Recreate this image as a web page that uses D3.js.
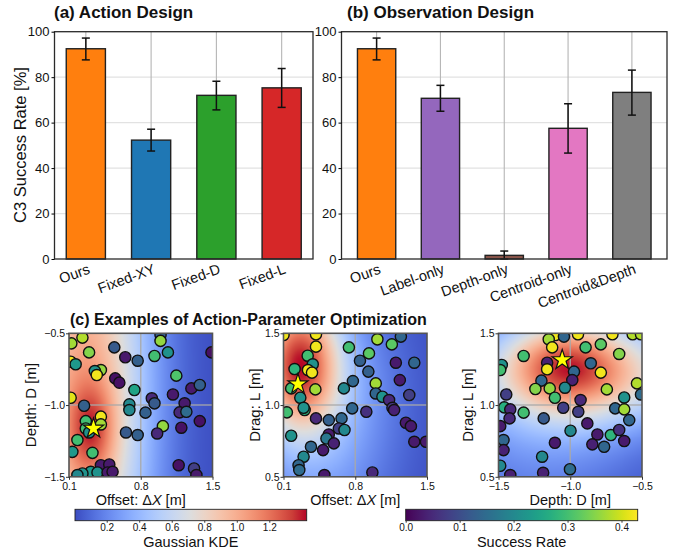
<!DOCTYPE html>
<html>
<head>
<meta charset="utf-8">
<script src="https://cdn.jsdelivr.net/npm/d3@7"></script>
<style>
  body { margin: 0; background: #fff; }
  svg { display: block; }
  text { font-family: "Liberation Sans", Arial, sans-serif; fill: #111; }
</style>
</head>
<body>
<svg id="fig" width="681" height="550"></svg>
<script>
// ---------- bar chart data (success rate in %) ----------
const actionLabels = ["Ours", "Fixed-XY", "Fixed-D", "Fixed-L"];
const actionRate   = [92.5, 52.3, 72.0, 75.3];
const actionLow    = [87.6, 47.5, 65.6, 66.7];
const actionHigh   = [97.2, 57.1, 78.2, 83.8];
const actionColors = ["#ff7f0e", "#1f77b4", "#2ca02c", "#d62728"];

const obsLabels = ["Ours", "Label-only", "Depth-only", "Centroid-only", "Centroid&Depth"];
const obsRate   = [92.5, 70.7, 1.6, 57.5, 73.3];
const obsLow    = [87.6, 65.0, 0.0, 46.6, 63.3];
const obsHigh   = [97.2, 76.4, 3.5, 68.3, 83.1];
const obsColors = ["#ff7f0e", "#9467bd", "#8c564b", "#e377c2", "#7f7f7f"];

const rateTicks = [0, 20, 40, 60, 80, 100];

// ---------- action-parameter samples: [x, y, success rate] ----------
const samplesOffsetDepth = [
  [0.123,-0.570,.37],[0.231,-0.530,.38],[0.993,-0.512,.13],[0.993,-0.553,.36],[0.542,-0.598,.12],
  [0.296,-0.633,.35],[0.649,-0.667,.03],[0.770,-0.691,.13],[0.934,-0.658,.30],[1.065,-0.633,.22],
  [1.490,-0.633,.02],[0.116,-0.698,.42],[0.165,-0.716,.23],[0.411,-0.756,.36],[0.352,-0.763,.22],
  [0.371,-0.791,.42],[0.551,-0.814,.02],[0.591,-0.844,.02],[0.738,-0.895,.25],[1.147,-0.795,.31],
  [1.294,-0.884,.03],[1.376,-0.860,.13],[1.114,-0.926,.03],[0.908,-0.953,.05],[0.934,-0.988,.12],
  [1.228,-0.988,.03],[0.116,-0.949,.41],[0.247,-1.005,.13],[0.689,-0.995,.20],[0.689,-1.035,.20],
  [0.846,-1.053,.13],[1.179,-1.051,.05],[1.245,-1.047,.15],[1.376,-1.112,.02],[0.264,-1.112,.30],
  [0.411,-1.081,.42],[0.264,-1.163,.30],[0.296,-1.191,.22],[0.411,-1.135,.37],[1.016,-1.147,.36],
  [1.196,-1.158,.02],[0.656,-1.191,.12],[0.770,-1.209,.13],[0.960,-1.198,.05],[0.182,-1.244,.30],
  [0.133,-1.326,.23],[0.329,-1.333,.30],[0.411,-1.419,.03],[0.493,-1.414,.03],[0.313,-1.465,.23],
  [0.231,-1.477,.22],[0.182,-1.488,.20],[0.378,-1.470,.22],[0.476,-1.470,.03],[0.525,-1.465,.03],
  [1.170,-1.419,.02],[1.320,-1.442,.08],[1.343,-1.488,.03]
];
const samplesOffsetDrag = [
  [0.100,1.488,.42],[0.417,1.493,.42],[0.417,1.407,.42],[0.738,1.402,.30],[1.016,1.458,.37],
  [1.157,1.423,.32],[1.245,1.477,.14],[0.934,1.360,.32],[0.336,1.344,.30],[0.846,1.309,.13],
  [1.196,1.295,.03],[1.376,1.295,.14],[0.385,1.284,.22],[0.208,1.251,.28],[0.339,1.244,.42],
  [0.378,1.226,.42],[0.928,1.233,.13],[1.235,1.174,.03],[0.777,1.167,.14],[1.000,1.151,.37],
  [0.689,1.116,.20],[0.411,1.109,.37],[0.175,1.116,.30],[1.000,1.081,.14],[1.065,1.058,.22],
  [1.130,1.035,.05],[1.327,1.070,.08],[0.264,1.051,.22],[0.306,0.965,.28],[0.296,0.981,.22],
  [0.133,0.949,.30],[0.770,0.977,.14],[0.908,0.953,.06],[1.163,0.981,.07],[1.179,0.965,.04],
  [0.417,0.907,.05],[0.542,0.895,.13],[0.666,0.907,.14],[0.640,0.837,.08],[0.695,0.826,.20],
  [0.542,0.795,.03],[0.519,0.767,.17],[0.591,0.733,.04],[1.294,0.877,.03],[1.343,0.853,.03],
  [0.175,0.786,.22],[0.368,0.709,.14],[0.486,0.686,.03],[1.376,0.744,.03],[1.490,0.744,.03],
  [0.296,0.640,.20],[0.247,0.581,.14],[0.254,0.547,.15],[0.499,0.512,.03],[0.967,0.530,.05]
];
const samplesDepthDrag = [
  [-1.103,1.488,.42],[-1.044,1.477,.14],[-0.946,1.493,.42],[-0.706,1.493,.42],[-0.565,1.493,.38],
  [-0.507,1.493,.38],[-1.150,1.458,.37],[-1.126,1.402,.42],[-0.893,1.402,.30],[-0.787,1.423,.32],
  [-1.325,1.342,.30],[-0.659,1.356,.35],[-1.477,1.279,.22],[-1.488,1.244,.30],[-1.161,1.295,.04],
  [-1.161,1.249,.42],[-0.974,1.233,.14],[-0.857,1.291,.14],[-0.787,1.226,.42],[-0.986,1.174,.04],
  [-1.201,1.170,.14],[-1.243,1.112,.35],[-1.143,1.116,.36],[-1.037,1.121,.20],[-1.107,1.051,.30],
  [-0.928,1.035,.05],[-0.745,1.109,.37],[-0.535,1.151,.38],[-0.624,1.053,.22],[-0.507,1.074,.15],
  [-1.446,1.074,.08],[-1.460,0.984,.27],[-1.418,0.970,.05],[-1.325,0.947,.30],[-1.049,0.981,.08],
  [-0.944,0.953,.08],[-0.687,0.977,.14],[-0.624,0.970,.37],[-0.589,0.895,.14],[-1.423,0.907,.05],
  [-1.185,0.907,.12],[-0.881,0.872,.03],[-1.488,0.853,.03],[-0.998,0.821,.20],[-0.811,0.795,.03],
  [-0.717,0.791,.28],[-0.659,0.826,.06],[-0.624,0.749,.03],[-0.846,0.726,.04],[-0.764,0.709,.14],
  [-1.107,0.737,.03],[-1.465,0.756,.14],[-1.465,0.686,.04],[-1.196,0.640,.20],[-1.488,0.577,.20],
  [-1.002,0.553,.15],[-1.189,0.528,.04],[-1.418,0.512,.04]
];
// optimum found in each search (star)
const bestOffsetDepth = [0.339, -1.163];
const bestOffsetDrag  = [0.241, 1.146];
const bestDepthDrag   = [-1.056, 1.314];

// Gaussian KDE components: [cx, cy, sigmaX, sigmaY, weight]
const kdeOffsetDepth = [[0.25, -0.95, 0.45, 1.30, 1.05], [0.32, -1.17, 0.16, 0.22, 0.38]];
const kdeOffsetDrag  = [[0.25, 1.30, 0.27, 0.32, 1.08], [0.45, 1.00, 0.50, 0.60, 0.42]];
const kdeDepthDrag   = [[-1.05, 1.30, 0.30, 0.22, 0.62], [-0.82, 1.22, 0.55, 0.26, 0.70], [-1.20, 0.85, 0.50, 0.45, 0.25]];

const kdeRange = [0.005, 1.43];
const rateRange = [0, 0.43];
const kdeTicks = [0.2, 0.4, 0.6, 0.8, 1.0, 1.2];
const rateCbTicks = [0.0, 0.1, 0.2, 0.3, 0.4];

// ---------- colour maps ----------
const coolwarmStops = ["#3b4cc0", "#4d68d7", "#6282ea", "#779af7", "#8db0fe", "#a3c2ff", "#b8d0f9",
  "#cbd8ee", "#dddddd", "#ecd3c5", "#f5c4ac", "#f7b194", "#f49a7b", "#ec7f63", "#de604d", "#cb3e38", "#b40426"];
const coolwarm = d3.piecewise(d3.interpolateRgb, coolwarmStops);
const kdeColor = d3.scaleSequential(coolwarm).domain(kdeRange).clamp(true);
const rateColor = d3.scaleSequential(d3.interpolateViridis).domain(rateRange).clamp(true);

const svg = d3.select("#fig");
const defs = svg.append("defs");

// ---------- bar panels ----------
const barTopY = 31.7, barBottomY = 259;

function barPanel(o) {
  const x = d3.scaleLinear().domain(o.xdom).range([o.left, o.right]);
  const y = d3.scaleLinear().domain([0, 100]).range([barBottomY, barTopY]);
  const g = svg.append("g");
  const idx = d3.range(o.labels.length);

  g.selectAll(".hgrid").data(rateTicks.slice(1, -1)).join("line")
    .attr("x1", o.left).attr("x2", o.right)
    .attr("y1", d => y(d)).attr("y2", d => y(d))
    .attr("stroke", "#e2e2e2").attr("stroke-width", 1.3);
  g.selectAll(".vgrid").data(idx).join("line")
    .attr("x1", d => x(d)).attr("x2", d => x(d))
    .attr("y1", barTopY).attr("y2", barBottomY)
    .attr("stroke", "#b5b5b5").attr("stroke-width", 1.1);

  const bw = x(0.3) - x(-0.3);
  g.selectAll(".bar").data(idx).join("rect")
    .attr("x", d => x(d) - bw / 2).attr("width", bw)
    .attr("y", d => y(o.rate[d])).attr("height", d => y(0) - y(o.rate[d]))
    .attr("fill", d => o.colors[d]).attr("stroke", "#222").attr("stroke-width", 1.4);

  g.selectAll(".err").data(idx).join("line")
    .attr("x1", d => x(d)).attr("x2", d => x(d))
    .attr("y1", d => y(o.low[d])).attr("y2", d => y(o.high[d]))
    .attr("stroke", "#111").attr("stroke-width", 1.5);
  ["low", "high"].forEach(k => {
    g.selectAll(".cap" + k).data(idx).join("line")
      .attr("x1", d => x(d) - 4).attr("x2", d => x(d) + 4)
      .attr("y1", d => y(o[k][d])).attr("y2", d => y(o[k][d]))
      .attr("stroke", "#111").attr("stroke-width", 1.5);
  });

  g.append("rect").attr("x", o.left).attr("y", barTopY)
    .attr("width", o.right - o.left).attr("height", barBottomY - barTopY)
    .attr("fill", "none").attr("stroke", "#2a2a2a").attr("stroke-width", 1.3);

  const ya = g.append("g").attr("transform", `translate(${o.left},0)`)
    .call(d3.axisLeft(y).tickValues(rateTicks).tickSize(3).tickPadding(2));
  ya.select(".domain").remove();
  ya.selectAll("text").style("font-size", "13px").style("font-family", '"Liberation Sans", Arial, sans-serif').attr("fill", "#111");

  g.selectAll(".xlab").data(idx).join("text")
    .attr("transform", d => `translate(${x(d) + 5},${barBottomY + 14}) rotate(-20)`)
    .attr("text-anchor", "end")
    .style("font-size", "14.5px")
    .text(d => o.labels[d]);

  g.append("text").attr("x", o.titleX).attr("y", 18)
    .style("font-size", "17px").style("font-weight", "bold")
    .text(o.title);
}

barPanel({ xdom: [-0.48, 3.48], left: 54.5, right: 313, labels: actionLabels, rate: actionRate,
  low: actionLow, high: actionHigh, colors: actionColors, title: "(a) Action Design", titleX: 54 });
barPanel({ xdom: [-0.55, 4.55], left: 341.5, right: 667, labels: obsLabels, rate: obsRate,
  low: obsLow, high: obsHigh, colors: obsColors, title: "(b) Observation Design", titleX: 347 });

svg.append("text")
  .attr("transform", `translate(26,145) rotate(-90)`)
  .attr("text-anchor", "middle")
  .style("font-size", "16.5px")
  .text("C3 Success Rate [%]");

// ---------- heatmap panels ----------
const heatTop = 333.3, heatSize = 143.5;

function kde(kernels, xv, yv) {
  let s = 0;
  kernels.forEach(k => {
    const dx = (xv - k[0]) / k[2], dy = (yv - k[1]) / k[3];
    s += k[4] * Math.exp(-0.5 * (dx * dx + dy * dy));
  });
  return s;
}

function heatPanel(o, n) {
  const x = d3.scaleLinear().domain(o.xdom).range([o.left, o.left + heatSize]);
  const y = d3.scaleLinear().domain(o.ydom).range([heatTop + heatSize, heatTop]);
  const g = svg.append("g");

  // KDE background image
  const W = Math.round(heatSize), H = Math.round(heatSize);
  const cv = document.createElement("canvas");
  cv.width = W; cv.height = H;
  const ctx = cv.getContext("2d");
  const img = ctx.createImageData(W, H);
  for (let j = 0; j < H; j++) {
    for (let i = 0; i < W; i++) {
      const v = kde(o.kernels, x.invert(o.left + (i + 0.5) * heatSize / W), y.invert(heatTop + (j + 0.5) * heatSize / H));
      const c = d3.rgb(kdeColor(v));
      const p = (j * W + i) * 4;
      img.data[p] = c.r; img.data[p + 1] = c.g; img.data[p + 2] = c.b; img.data[p + 3] = 255;
    }
  }
  ctx.putImageData(img, 0, 0);
  g.append("image").attr("href", cv.toDataURL())
    .attr("x", o.left).attr("y", heatTop).attr("width", heatSize).attr("height", heatSize)
    .attr("preserveAspectRatio", "none");

  // grid at middle ticks
  g.append("line").attr("x1", x(o.xticks[1])).attr("x2", x(o.xticks[1]))
    .attr("y1", heatTop).attr("y2", heatTop + heatSize)
    .attr("stroke", "#a8a8a8").attr("stroke-opacity", 0.85).attr("stroke-width", 1.5);
  g.append("line").attr("y1", y(o.yticks[1])).attr("y2", y(o.yticks[1]))
    .attr("x1", o.left).attr("x2", o.left + heatSize)
    .attr("stroke", "#a8a8a8").attr("stroke-opacity", 0.85).attr("stroke-width", 1.5);

  const clipId = "clip" + n;
  defs.append("clipPath").attr("id", clipId).append("rect")
    .attr("x", o.left).attr("y", heatTop).attr("width", heatSize).attr("height", heatSize);
  const pts = g.append("g").attr("clip-path", `url(#${clipId})`);
  pts.selectAll("circle").data(o.samples).join("circle")
    .attr("cx", d => x(d[0])).attr("cy", d => y(d[1])).attr("r", 5.6)
    .attr("fill", d => rateColor(d[2])).attr("stroke", "#111").attr("stroke-width", 1.4);
  pts.append("path")
    .attr("d", d3.symbol(d3.symbolStar, 125)())
    .attr("transform", `translate(${x(o.best[0])},${y(o.best[1])})`)
    .attr("fill", "#ffff00").attr("stroke", "#111").attr("stroke-width", 1.2);

  g.append("rect").attr("x", o.left).attr("y", heatTop).attr("width", heatSize).attr("height", heatSize)
    .attr("fill", "none").attr("stroke", "#555").attr("stroke-width", 1.6);

  const fmt = d3.format(".1f");
  const xa = g.append("g").attr("transform", `translate(0,${heatTop + heatSize})`)
    .call(d3.axisBottom(x).tickValues(o.xticks).tickFormat(fmt).tickSize(3).tickPadding(2.5));
  const ya = g.append("g").attr("transform", `translate(${o.left},0)`)
    .call(d3.axisLeft(y).tickValues(o.yticks).tickFormat(fmt).tickSize(3).tickPadding(1));
  [xa, ya].forEach(a => {
    a.select(".domain").remove();
    a.selectAll("line").attr("stroke", "#333");
    a.selectAll("text").style("font-size", "10.5px").style("font-family", '"Liberation Sans", Arial, sans-serif').attr("fill", "#111");
  });

  g.append("text").attr("x", o.left + heatSize / 2).attr("y", 505)
    .attr("text-anchor", "middle").style("font-size", "14.5px")
    .html(o.xlabel);
  g.append("text")
    .attr("transform", `translate(${o.ylabelX},${heatTop + heatSize / 2}) rotate(-90)`)
    .attr("text-anchor", "middle").style("font-size", "15px")
    .text(o.ylabel);
}

const offsetLabel = 'Offset: Δ<tspan font-style="italic">X</tspan> [m]';
heatPanel({ left: 69, xdom: [0.1, 1.5], ydom: [-1.5, -0.5], xticks: [0.1, 0.8, 1.5], yticks: [-1.5, -1.0, -0.5],
  kernels: kdeOffsetDepth, samples: samplesOffsetDepth, best: bestOffsetDepth,
  xlabel: offsetLabel, ylabel: "Depth: D [m]", ylabelX: 36 }, 0);
heatPanel({ left: 283.5, xdom: [0.1, 1.5], ydom: [0.5, 1.5], xticks: [0.1, 0.8, 1.5], yticks: [0.5, 1.0, 1.5],
  kernels: kdeOffsetDrag, samples: samplesOffsetDrag, best: bestOffsetDrag,
  xlabel: offsetLabel, ylabel: "Drag: L [m]", ylabelX: 260 }, 1);
heatPanel({ left: 498.5, xdom: [-1.5, -0.5], ydom: [0.5, 1.5], xticks: [-1.5, -1.0, -0.5], yticks: [0.5, 1.0, 1.5],
  kernels: kdeDepthDrag, samples: samplesDepthDrag, best: bestDepthDrag,
  xlabel: "Depth: D [m]", ylabel: "Drag: L [m]", ylabelX: 473 }, 2);

svg.append("text").attr("x", 70).attr("y", 325)
  .style("font-size", "16px").style("font-weight", "bold")
  .text("(c) Examples of Action-Parameter Optimization");

// ---------- colour bars ----------
function colorBar(scale, dom, x0, x1, ticks, label, id) {
  const cbTop = 509.3, cbH = 11.4;
  const grad = defs.append("linearGradient").attr("id", id);
  d3.range(0, 1.0001, 1 / 32).forEach(t => {
    grad.append("stop").attr("offset", t).attr("stop-color", scale(dom[0] + t * (dom[1] - dom[0])));
  });
  const x = d3.scaleLinear().domain(dom).range([x0, x1]);
  svg.append("rect").attr("x", x0).attr("y", cbTop).attr("width", x1 - x0).attr("height", cbH)
    .attr("fill", `url(#${id})`).attr("stroke", "#222").attr("stroke-width", 0.9);
  const a = svg.append("g").attr("transform", `translate(0,${cbTop + cbH})`)
    .call(d3.axisBottom(x).tickValues(ticks).tickFormat(d3.format(".1f")).tickSize(2).tickPadding(1));
  a.select(".domain").remove();
  a.selectAll("line").attr("stroke", "#333");
  a.selectAll("text").style("font-size", "10px").style("font-family", '"Liberation Sans", Arial, sans-serif').attr("fill", "#111");
  svg.append("text").attr("x", (x0 + x1) / 2).attr("y", 546.5)
    .attr("text-anchor", "middle").style("font-size", "14.5px").text(label);
}
colorBar(kdeColor, kdeRange, 75, 306.7, kdeTicks, "Gaussian KDE", "gKde");
colorBar(rateColor, rateRange, 405.7, 637.7, rateCbTicks, "Success Rate", "gRate");
</script>
</body>
</html>
